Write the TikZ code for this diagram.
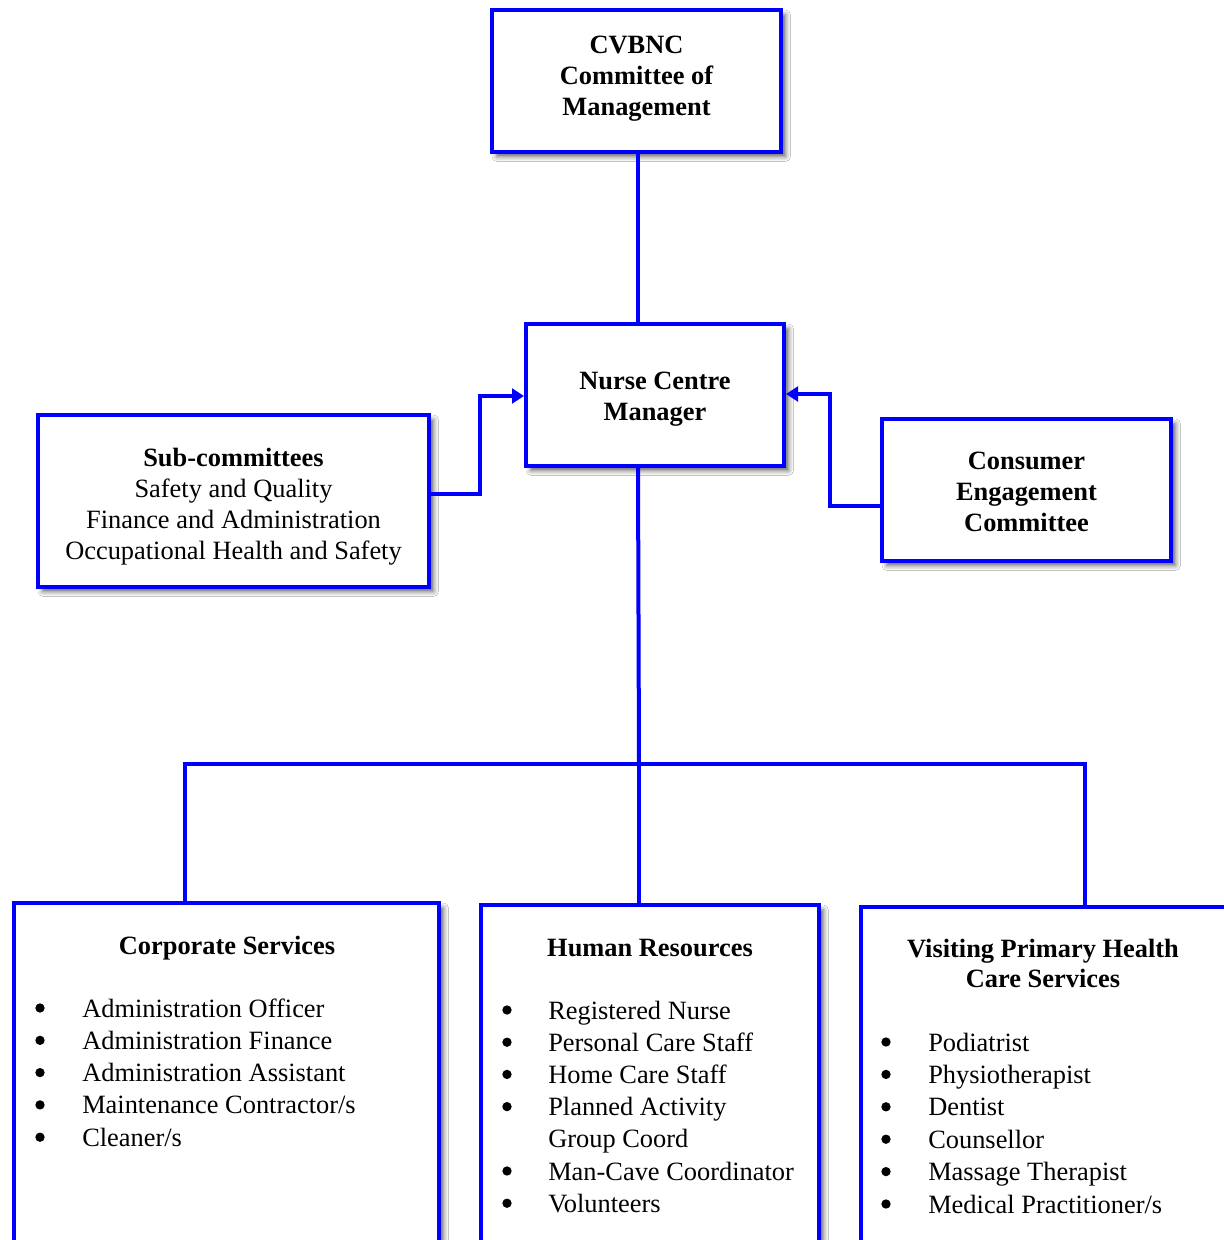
\documentclass[tikz,border=0pt]{standalone}
\usepackage{fontspec}
\setmainfont{Liberation Serif}
\usetikzlibrary{arrows.meta,shadows.blur}
\newcommand{\mlines}[2]{\raisebox{#1}[\height][\depth]{\begin{tabular}{@{}c@{}}#2\end{tabular}}}
\begin{document}
\begin{tikzpicture}[x=0.75pt,y=-0.75pt,
 box/.style={draw=blue, line width=3pt, fill=white,
   blur shadow={shadow xshift=3.5pt, shadow yshift=-3.5pt, shadow blur radius=3.5pt, shadow opacity=60},
   align=center, font=\fontsize{19.8}{23.3}\selectfont\bfseries, inner sep=0pt},
 conn/.style={draw=blue, line width=3pt},
 arr/.style={conn, -{Triangle[length=9pt,width=11pt]}},
 ttl/.style={font=\fontsize{19.8}{23.3}\selectfont\bfseries, inner sep=0pt, anchor=base},
 lst/.style={font=\fontsize{19.8}{24.3}\selectfont, inner sep=0pt, anchor=base west},
 bul/.style={circle, fill=black, inner sep=0pt, minimum size=7pt},
]
\useasboundingbox (0,0) rectangle (1224,1240);
\begin{scope}
\clip (0,0) rectangle (1224,1240);
\fill[white] (0,0) rectangle (1224,1240);

% top boxes
\node[box, minimum width=216.75pt, minimum height=106.5pt] (cv) at (636.5,81)
  {\mlines{2pt}{CVBNC\\Committee of\\Management}};
\node[box, minimum width=193.5pt, minimum height=106.5pt] (ncm) at (655,395)
  {\mlines{-3pt}{Nurse Centre\\Manager}};
\node[box, minimum width=293.25pt, minimum height=129pt] (sub) at (233.5,501)
  {\mlines{-4.5pt}{Sub-committees\\\mdseries Safety and Quality\\\mdseries Finance and Administration\\\mdseries Occupational Health and Safety}};
\node[box, minimum width=216.75pt, minimum height=106.5pt] (con) at (1026.5,490)
  {\mlines{-3pt}{Consumer\\Engagement\\Committee}};

% bottom boxes
\node[box, anchor=north west, minimum width=318.75pt, minimum height=275.25pt] (cs) at (12,901) {};
\node[box, anchor=north west, minimum width=253.5pt, minimum height=275.25pt] (hr) at (479,903) {};
\node[box, anchor=north west, minimum width=284.25pt, minimum height=275.25pt] (vp) at (859,905) {};

% Corporate Services
\node[ttl] (cst) at (227,954) {Corporate Services};
\foreach \t [count=\i from 0] in {Administration Officer, Administration Finance, Administration Assistant, Maintenance Contractor/s, Cleaner/s}{
  \node[bul] (csb\i) at (40,{1008+32.3*\i}) {};
  \node[lst] (csi\i) at (82,{1017+32.3*\i}) {\t};
}

% Human Resources
\node[ttl] (hrt) at (650,956) {Human Resources};
\foreach \t [count=\i from 0] in {Registered Nurse, Personal Care Staff, Home Care Staff, Planned Activity, Group Coord, Man-Cave Coordinator, Volunteers}{
  \node[lst] (hri\i) at (548,{1019+32.2*\i}) {\t};
}
\foreach \i in {0,1,2,3,5,6}{
  \node[bul] (hrb\i) at (507,{1010+32.2*\i}) {};
}

% Visiting Primary Health Care Services
\node[ttl] (vpt1) at (1043,957) {Visiting Primary Health};
\node[ttl] (vpt2) at (1043,987) {Care Services};
\foreach \t [count=\i from 0] in {Podiatrist, Physiotherapist, Dentist, Counsellor, Massage Therapist, Medical Practitioner/s}{
  \node[bul] (vpb\i) at (886,{1042+32.4*\i}) {};
  \node[lst] (vpi\i) at (928,{1051+32.4*\i}) {\t};
}

% connectors
\draw[conn] (cv.south -| 637.5,0) -- (ncm.north -| 637.5,0);
\draw[arr] (sub.east |- 0,494) -- ++(49,0) |- (ncm.west |- 0,396);
\draw[arr] (con.west |- 0,506) -- ++(-50,0) |- (ncm.east |- 0,394);
\coordinate (hub) at (639,764);
\draw[conn] (ncm.south -| 638,0) -- (hub);
\draw[conn] (cs.north -| 184.5,0) |- (hub) -| (vp.north -| 1084.5,0);
\draw[conn] (hub) -- (hub |- hr.north);
\end{scope}
\end{tikzpicture}
\end{document}
